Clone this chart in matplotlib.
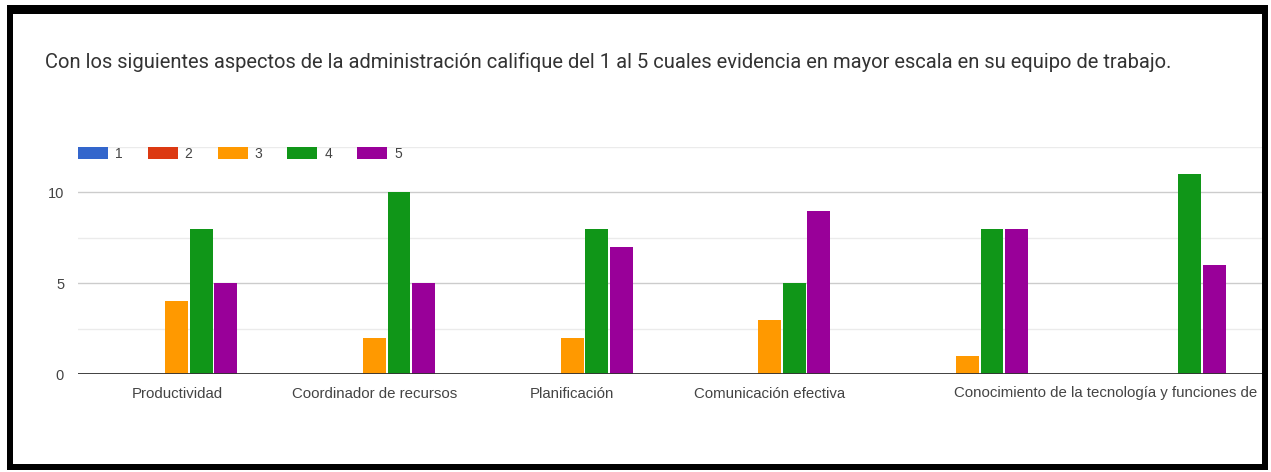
import numpy as np
import matplotlib
matplotlib.use("Agg")
import matplotlib.pyplot as plt
from matplotlib.patches import Rectangle
from matplotlib.transforms import Bbox, TransformedBbox, ScaledTranslation

plt.rcParams["font.family"] = ["Liberation Sans", "DejaVu Sans"]

# datos de la encuesta
titulo = ("Con los siguientes aspectos de la administración califique del 1 al 5 "
          "cuales evidencia en mayor escala en su equipo de trabajo.")
categorias = ["Productividad", "Coordinador de recursos", "Planificación",
              "Comunicación efectiva", "Conocimiento de la tecnología y funciones de", ""]
calificaciones = ["1", "2", "3", "4", "5"]
votos_1 = [0, 0, 0, 0, 0, 0]
votos_2 = [0, 0, 0, 0, 0, 0]
votos_3 = [4, 2, 2, 3, 1, 0]
votos_4 = [8, 10, 8, 5, 8, 11]
votos_5 = [5, 5, 7, 9, 8, 6]
colores = ["#3366cc", "#dc3912", "#ff9900", "#109618", "#990099"]

W, H = 1271, 472
fig = plt.figure(figsize=(W / 100, H / 100), dpi=100)
fig.patch.set_facecolor("white")

# area del grafico (en pixeles)
ax = fig.add_axes([78 / W, (H - 374) / H, (1264 - 78) / W, (374 - 147) / H])

x = np.arange(len(categorias))
ancho = 0.116
paso = 0.124
barras = []
for i, (votos, color) in enumerate(zip([votos_1, votos_2, votos_3, votos_4, votos_5], colores)):
    b = ax.bar(x + (i - 2) * paso, votos, width=ancho, color=color, zorder=2)
    barras.append(b)

ax.set_xlim(-0.5, len(categorias) - 0.5)
ax.set_ylim(0, 12.5)
ax.set_yticks([0, 5, 10])
ax.set_yticks([2.5, 7.5, 12.5], minor=True)
ax.grid(which="major", axis="y", color="#cccccc", lw=1, zorder=0)
ax.grid(which="minor", axis="y", color="#ebebeb", lw=1, zorder=0)
ax.axhline(0, color="#333333", lw=1.3, zorder=3)
for s in ax.spines.values():
    s.set_visible(False)

ax.set_xticks(x[:5])
ax.set_xticklabels(categorias[:5])
ax.tick_params(axis="both", which="both", length=0, labelcolor="#444444")
ax.tick_params(axis="x", pad=9, labelsize=10.8)
ax.tick_params(axis="y", pad=10, labelsize=10.5)

# la etiqueta larga se corta en el borde derecho
etiqueta = ax.get_xticklabels()[4]
etiqueta.set_ha("left")
etiqueta.set_transform(etiqueta.get_transform() + ScaledTranslation(-0.13, 0, fig.dpi_scale_trans))
etiqueta.set_clip_box(TransformedBbox(Bbox([[0, 0], [1261 / W, 1]]), fig.transFigure))
etiqueta.set_clip_on(True)

fs = 10
px = fs * 100 / 72
ax.legend([b[0] for b in barras], calificaciones, ncol=5, loc="center left",
          bbox_to_anchor=(78 / W, (H - 154) / H), bbox_transform=fig.transFigure,
          frameon=False, fontsize=fs, labelcolor="#444444",
          handlelength=30 / px, handleheight=13 / px, handletextpad=7 / px,
          columnspacing=25 / px, borderaxespad=0, borderpad=0)

fig.text(45 / W, 1 - 62 / H, titulo, ha="left", va="center", fontsize=14.5,
         family=["Roboto", "DejaVu Sans"], color="#333333")

# marco negro
for (x0, y0, w, h) in [(7, 5, 1261, 9), (7, 5, 6, 465), (1262, 5, 6, 465), (7, 464, 1261, 6)]:
    fig.add_artist(Rectangle((x0 / W, 1 - (y0 + h) / H), w / W, h / H,
                             transform=fig.transFigure, facecolor="black",
                             edgecolor="none", zorder=10))

fig.savefig("out.png", dpi=100)
